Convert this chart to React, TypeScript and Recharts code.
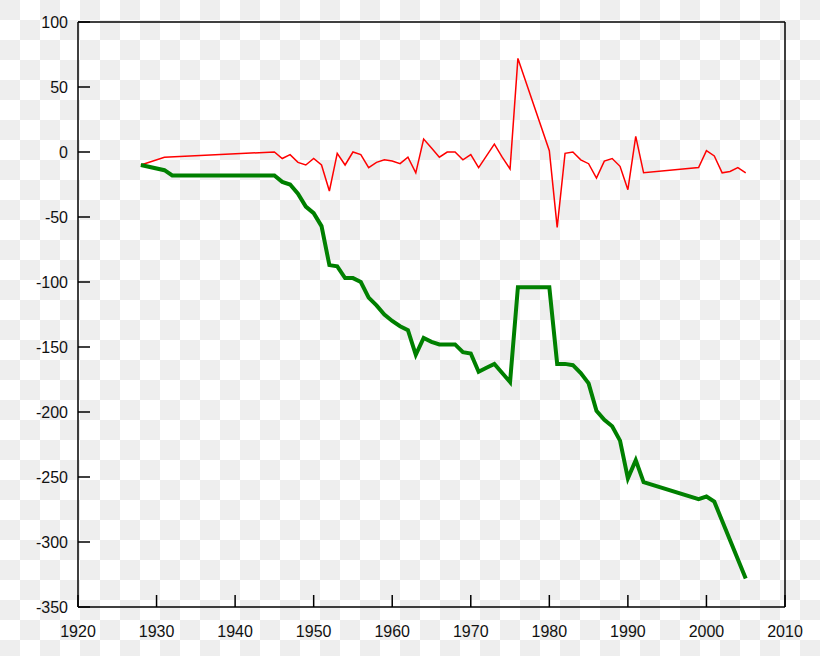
import { Line, LineChart, XAxis, YAxis } from "recharts";

// annual balance (red, thin)
const changeYears = [
  1928, 1931, 1945, 1946, 1947, 1948, 1949, 1950, 1951, 1952, 1953, 1954, 1955,
  1956, 1957, 1958, 1959, 1960, 1961, 1962, 1963, 1964, 1965, 1966, 1967, 1968,
  1969, 1970, 1971, 1972, 1973, 1974, 1975, 1976, 1980, 1981, 1982, 1983, 1984,
  1985, 1986, 1987, 1988, 1989, 1990, 1991, 1992, 1999, 2000, 2001, 2002, 2003,
  2004, 2005,
];
const changeValues = [
  -10, -4, 0, -5, -2, -8, -10, -5, -10, -30, -1, -10, 0, -2, -12, -8, -6, -7,
  -9, -4, -16, 10, 3, -4, 0, 0, -6, -2, -12, -3, 6, -4, -13, 72, 1, -58, -1, 0,
  -6, -9, -20, -7, -5, -11, -29, 12, -16, -12, 1, -3, -16, -15, -12, -16,
];

// cumulative (green, thick)
const totalYears = [
  1928, 1931, 1932, 1945, 1946, 1947, 1948, 1949, 1950, 1951, 1952, 1953, 1954,
  1955, 1956, 1957, 1958, 1959, 1960, 1961, 1962, 1963, 1964, 1965, 1966, 1967,
  1968, 1969, 1970, 1971, 1972, 1973, 1974, 1975, 1976, 1980, 1981, 1982, 1983,
  1984, 1985, 1986, 1987, 1988, 1989, 1990, 1991, 1992, 1999, 2000, 2001, 2005,
];
const totalValues = [
  -10, -14, -18, -18, -23, -25, -32, -42, -47, -57, -87, -88, -97, -97, -100,
  -112, -118, -125, -130, -134, -137, -156, -143, -146, -148, -148, -148, -154,
  -155, -169, -166, -163, -170, -177, -104, -104, -163, -163, -164, -170, -178,
  -199, -206, -211, -222, -251, -237, -254, -267, -265, -269, -328,
];

const yearTicks = [1920, 1930, 1940, 1950, 1960, 1970, 1980, 1990, 2000, 2010];
const valueTicks = [100, 50, 0, -50, -100, -150, -200, -250, -300, -350];

const changeData = changeYears.map((year, i) => ({ year, value: changeValues[i] }));
const totalData = totalYears.map((year, i) => ({ year, value: totalValues[i] }));

const axisStyle = { stroke: "#000", strokeWidth: 1.5 };
const tickFont = { fill: "#111", fontSize: 16, fontFamily: "Liberation Sans, Arial, sans-serif" };

const App = () => {
  return (
    <div
      style={{
        position: "absolute",
        left: 0,
        top: 0,
        width: 820,
        height: 656,
        backgroundColor: "#fff",
        backgroundImage: "repeating-conic-gradient(#fff 0% 25%, #eeeeee 0% 50%)",
        backgroundSize: "40px 40px",
      }}
    >
      <LineChart
        width={820}
        height={656}
        margin={{ top: 21, right: 34, bottom: 19, left: 0 }}
      >
        <XAxis
          dataKey="year"
          type="number"
          domain={[1920, 2010]}
          ticks={yearTicks}
          interval={0}
          height={30}
          axisLine={axisStyle}
          tickLine={axisStyle}
          tickSize={-12}
          tickMargin={31}
          tick={tickFont}
        />
        <XAxis
          xAxisId="top"
          orientation="top"
          dataKey="year"
          type="number"
          domain={[1920, 2010]}
          ticks={yearTicks}
          interval={0}
          height={1}
          axisLine={axisStyle}
          tickLine={axisStyle}
          tickSize={-12}
          tick={false}
        />
        <YAxis
          type="number"
          domain={[-350, 100]}
          ticks={valueTicks}
          interval={0}
          width={78}
          axisLine={axisStyle}
          tickLine={axisStyle}
          tickSize={-12}
          tickMargin={22}
          tick={tickFont}
        />
        <YAxis
          yAxisId="right"
          orientation="right"
          type="number"
          domain={[-350, 100]}
          ticks={valueTicks}
          interval={0}
          width={1}
          axisLine={axisStyle}
          tickLine={axisStyle}
          tickSize={-12}
          tick={false}
        />
        <Line
          data={changeData}
          dataKey="value"
          stroke="#ff0000"
          strokeWidth={1.5}
          dot={false}
          isAnimationActive={false}
        />
        <Line
          data={totalData}
          dataKey="value"
          stroke="#008000"
          strokeWidth={4}
          dot={false}
          isAnimationActive={false}
        />
      </LineChart>
    </div>
  );
};

export default App;
